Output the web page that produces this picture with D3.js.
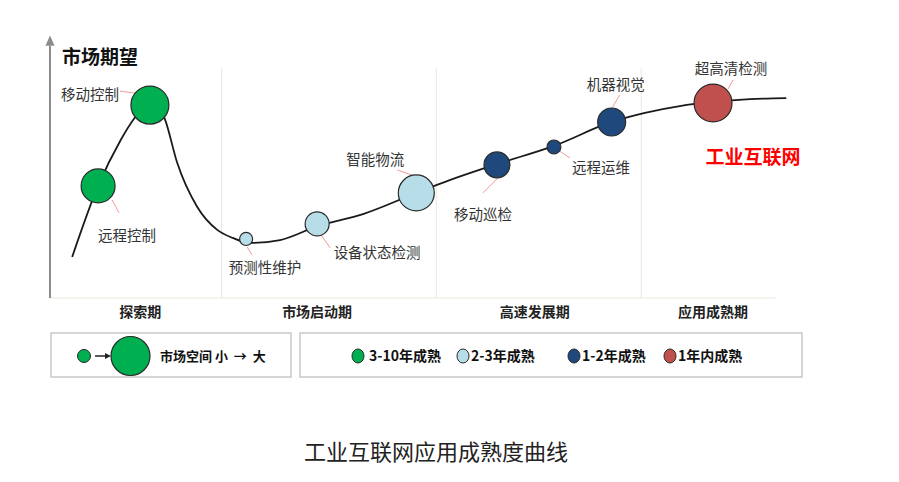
<!DOCTYPE html>
<html>
<head>
<meta charset="utf-8">
<script src="https://cdn.jsdelivr.net/npm/d3@7"></script>
<style>
  body { margin: 0; background: #fff; }
  svg { display: block; font-family: "Noto Sans CJK SC", "Noto Sans", sans-serif; }
</style>
</head>
<body>
<svg id="chart" width="899" height="482"></svg>
<script>
// curve of market expectation (t = time, v = expectation, both 0-100)
const curveT = [3.0, 6.5, 9.5, 11.5, 13.6, 15.5, 17.2, 19.9, 22.6, 24.7, 27.0, 31.1, 36.2, 42.3, 49.5, 54.1, 60.4, 68.1, 75.9, 80.4, 85.1, 89.6, 94.6, 99.5];
const curveV = [15.8, 43.1, 60.5, 69.5, 75.8, 69.0, 51.9, 35.0, 26.2, 23.1, 21.2, 22.3, 27.7, 32.3, 40.4, 45.4, 51.5, 58.5, 67.7, 71.2, 73.8, 75.4, 76.5, 76.9];

// applications
const appNames = ["远程控制", "移动控制", "预测性维护", "设备状态检测", "智能物流", "移动巡检", "远程运维", "机器视觉", "超高清检测"];
const appT = [6.5, 13.5, 26.5, 36.1, 49.5, 60.4, 68.1, 75.9, 89.6];
const appV = [43.1, 74.2, 22.7, 28.5, 40.4, 51.2, 58.1, 67.7, 75.0];
const appSize = [72, 90, 10.6, 36, 81, 42, 12, 49, 90];
const appMaturity = ["3-10年成熟", "3-10年成熟", "2-3年成熟", "2-3年成熟", "2-3年成熟", "1-2年成熟", "1-2年成熟", "1-2年成熟", "1年内成熟"];

// phases
const phaseNames = ["探索期", "市场启动期", "高速发展期", "应用成熟期"];
const phaseDividers = [23.2, 52.2, 79.9];
const phaseLabelT = [12.2, 36.1, 65.5, 89.6];
const axisEndT = 98.1;

const maturityNames = ["3-10年成熟", "2-3年成熟", "1-2年成熟", "1年内成熟"];
const maturityColors = ["#00b050", "#b7dde8", "#1f497d", "#c0504d"];
const legendSizes = [10.6, 95];

// label placement relative to bubble centre: text centre, leader line
const labelLayout = [
  { dx: 29, dy: 50, l: [14, 14, 21, 27] },
  { dx: -60, dy: -10, l: [-15, -12, -30, -14] },
  { dx: 19, dy: 29, l: [1, 8, 6, 16] },
  { dx: 60, dy: 29, l: [4, 11, 13, 24] },
  { dx: -41, dy: -33, l: [-19, -23, 1, -16] },
  { dx: -14, dy: 50, l: [1, 13, -14, 28] },
  { dx: 47, dy: 21, l: [4, 3, 16, 11] },
  { dx: 4, dy: -37, l: [1, -15, 8, -27] },
  { dx: 18, dy: -34, l: [15, -14, 20, -23] },
];

const svg = d3.select("#chart");

const xScale = d3.scaleLinear().domain([0, 100]).range([50, 790]);
const yScale = d3.scaleLinear().domain([0, 100]).range([298, 38]);
const rScale = d3.scaleSqrt().domain([0, 100]).range([0, 20]);
const colorScale = d3.scaleOrdinal().domain(maturityNames).range(maturityColors);

// phase dividers and baseline
const gGrid = svg.append("g");
gGrid
  .selectAll("line.divider")
  .data(phaseDividers)
  .join("line")
  .attr("class", "divider")
  .attr("x1", (d) => xScale(d))
  .attr("x2", (d) => xScale(d))
  .attr("y1", yScale(88.5))
  .attr("y2", yScale(0))
  .attr("stroke", "#ece7dc")
  .attr("stroke-width", 1);

gGrid
  .append("line")
  .attr("x1", xScale(0))
  .attr("x2", xScale(axisEndT))
  .attr("y1", yScale(0))
  .attr("y2", yScale(0))
  .attr("stroke", "#ece7dc")
  .attr("stroke-width", 1.2);

// y axis with arrow
const gy = svg.append("g");
gy.append("line")
  .attr("x1", xScale(0))
  .attr("x2", xScale(0))
  .attr("y1", yScale(0))
  .attr("y2", yScale(97))
  .attr("stroke", "#8c8c8c")
  .attr("stroke-width", 2);
gy.append("path")
  .attr("d", d3.line()([
    [xScale(0) - 4.5, yScale(97)],
    [xScale(0), yScale(101)],
    [xScale(0) + 4.5, yScale(97)],
  ]) + "Z")
  .attr("fill", "#8c8c8c");

svg.append("text")
  .attr("x", xScale(0) + 12)
  .attr("y", 57)
  .attr("dy", "0.35em")
  .attr("font-size", 19)
  .attr("font-weight", "bold")
  .attr("fill", "#111")
  .text("市场期望");

// phase labels
svg.append("g")
  .selectAll("text")
  .data(phaseNames)
  .join("text")
  .attr("x", (d, i) => xScale(phaseLabelT[i]))
  .attr("y", 312)
  .attr("dy", "0.35em")
  .attr("text-anchor", "middle")
  .attr("font-size", 14)
  .attr("font-weight", "bold")
  .attr("fill", "#222")
  .text((d) => d);

// curve
const curveData = curveT.map((t, i) => ({ t, v: curveV[i] }));
const line = d3
  .line()
  .curve(d3.curveMonotoneX)
  .x((d) => xScale(d.t))
  .y((d) => yScale(d.v));

svg.append("path")
  .datum(curveData)
  .attr("d", line)
  .attr("fill", "none")
  .attr("stroke", "#1a1a1a")
  .attr("stroke-width", 1.8);

// bubbles
const apps = appNames.map((name, i) => ({
  name,
  t: appT[i],
  v: appV[i],
  size: appSize[i],
  maturity: appMaturity[i],
  lay: labelLayout[i],
}));

const gApps = svg.append("g");

gApps
  .selectAll("line.leader")
  .data(apps)
  .join("line")
  .attr("class", "leader")
  .attr("x1", (d) => xScale(d.t) + d.lay.l[0])
  .attr("y1", (d) => yScale(d.v) + d.lay.l[1])
  .attr("x2", (d) => xScale(d.t) + d.lay.l[2])
  .attr("y2", (d) => yScale(d.v) + d.lay.l[3])
  .attr("stroke", "#f29a9a")
  .attr("stroke-width", 1);

gApps
  .selectAll("circle")
  .data(apps)
  .join("circle")
  .attr("cx", (d) => xScale(d.t))
  .attr("cy", (d) => yScale(d.v))
  .attr("r", (d) => rScale(d.size))
  .attr("fill", (d) => colorScale(d.maturity))
  .attr("stroke", "#2a2a2a")
  .attr("stroke-width", 1.2);

gApps
  .selectAll("text")
  .data(apps)
  .join("text")
  .attr("x", (d) => xScale(d.t) + d.lay.dx)
  .attr("y", (d) => yScale(d.v) + d.lay.dy)
  .attr("dy", "0.35em")
  .attr("text-anchor", "middle")
  .attr("font-size", 14.5)
  .attr("fill", "#333")
  .text((d) => d.name);

svg.append("text")
  .attr("x", 753)
  .attr("y", 157)
  .attr("dy", "0.35em")
  .attr("text-anchor", "middle")
  .attr("font-size", 19)
  .attr("font-weight", "bold")
  .attr("fill", "#ff0000")
  .text("工业互联网");

// legend 1: market size
const legendY = 356;
const g1 = svg.append("g");
g1.append("rect")
  .attr("x", 51).attr("y", 333).attr("width", 240).attr("height", 44)
  .attr("fill", "#fff").attr("stroke", "#c8c8c8").attr("stroke-width", 1.5);

g1.append("circle")
  .attr("cx", 84).attr("cy", legendY).attr("r", rScale(legendSizes[0]))
  .attr("fill", colorScale(maturityNames[0])).attr("stroke", "#2a2a2a").attr("stroke-width", 1);
g1.append("line")
  .attr("x1", 95).attr("x2", 106).attr("y1", legendY).attr("y2", legendY)
  .attr("stroke", "#222").attr("stroke-width", 1.5);
g1.append("path")
  .attr("d", d3.line()([[105, legendY - 3], [111, legendY], [105, legendY + 3]]) + "Z")
  .attr("fill", "#222");
g1.append("circle")
  .attr("cx", 130.5).attr("cy", legendY).attr("r", rScale(legendSizes[1]))
  .attr("fill", colorScale(maturityNames[0])).attr("stroke", "#2a2a2a").attr("stroke-width", 1.2);
g1.append("text")
  .attr("x", 160).attr("y", legendY).attr("dy", "0.35em")
  .attr("font-size", 13).attr("font-weight", "bold").attr("fill", "#111")
  .attr("xml:space", "preserve")
  .text("市场空间 小  →  大");

// legend 2: maturity
const legendX = [358, 463, 574, 670];
const g2 = svg.append("g");
g2.append("rect")
  .attr("x", 300).attr("y", 333).attr("width", 502).attr("height", 44)
  .attr("fill", "#fff").attr("stroke", "#c8c8c8").attr("stroke-width", 1.5);

const items = g2
  .selectAll("g")
  .data(maturityNames)
  .join("g")
  .attr("transform", (d, i) => `translate(${legendX[i]},${legendY})`);
items.append("ellipse")
  .attr("rx", rScale(legendSizes[0]) - 0.5)
  .attr("ry", rScale(legendSizes[0]) + 0.5)
  .attr("fill", (d) => colorScale(d))
  .attr("stroke", "#2a2a2a").attr("stroke-width", 1);
items.append("text")
  .attr("x", (d, i) => (i === 0 ? 11 : 8))
  .attr("dy", "0.35em")
  .attr("font-size", 14).attr("font-weight", "bold").attr("fill", "#111")
  .text((d) => d);

// title
svg.append("text")
  .attr("x", 436)
  .attr("y", 452)
  .attr("dy", "0.35em")
  .attr("text-anchor", "middle")
  .attr("font-size", 22)
  .attr("fill", "#222")
  .text("工业互联网应用成熟度曲线");
</script>
</body>
</html>
